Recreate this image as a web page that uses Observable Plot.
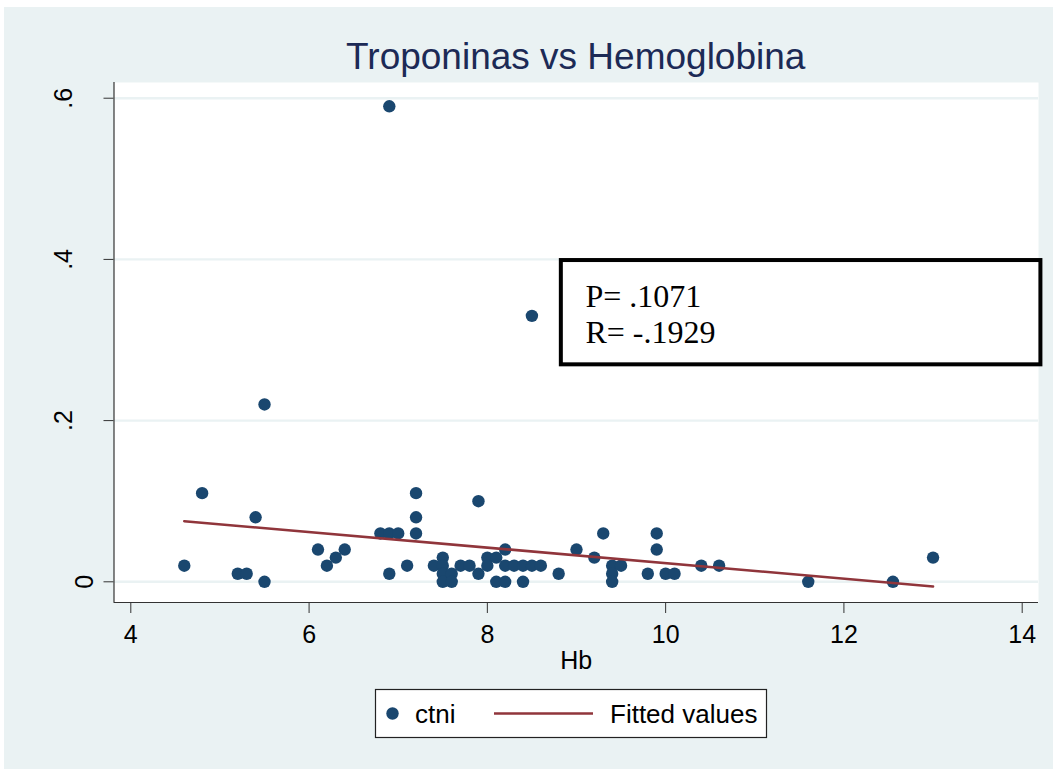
<!DOCTYPE html>
<html><head><meta charset="utf-8">
<script src="https://cdn.jsdelivr.net/npm/d3@7"></script>
<script src="https://cdn.jsdelivr.net/npm/@observablehq/plot@0.6"></script>
<style>
body{margin:0;background:#fff;}
#page{position:relative;width:1053px;height:769px;overflow:hidden;font-family:"Liberation Sans",Arial,sans-serif;}
#bg{position:absolute;left:4px;top:7px;right:0;bottom:0;background:#EAF2F3;}
#title{position:absolute;left:113.5px;width:924.5px;top:38px;text-align:center;font-size:37px;line-height:37px;color:#1c2a56;white-space:nowrap;}
#chart{position:absolute;left:0;top:0;}
#legend{position:absolute;left:0;top:0;}
</style></head><body>
<div id="page"><div id="bg"></div><div id="chart"></div><div id="title"></div><div id="legend"></div></div>
<script>
// ---- data ----
const titleText = "Troponinas vs Hemoglobina";
const xLabel = "Hb";
const seriesNames = ["ctni", "Fitted values"];
const hb   = [4.6,4.8,5.2,5.3,5.4,5.5,5.5,6.1,6.2,6.3,6.4,6.8,6.9,6.9,6.9,7.0,7.1,7.2,7.2,7.2,
              7.4,7.5,7.5,7.5,7.5,7.6,7.6,7.7,7.8,7.9,7.9,8.0,8.0,8.1,8.1,8.2,8.2,8.2,8.3,8.4,
              8.4,8.5,8.5,8.6,8.8,9.0,9.2,9.3,9.4,9.4,9.4,9.5,9.8,9.9,9.9,10.0,10.1,10.4,10.6,11.6,
              12.55,13.0];
const ctni = [0.02,0.11,0.01,0.01,0.08,0.22,0,0.04,0.02,0.03,0.04,0.06,0.06,0.59,0.01,0.06,0.02,0.11,0.08,0.06,
              0.02,0.03,0.02,0.01,0,0.01,0,0.02,0.02,0.10,0.01,0.03,0.02,0.03,0,0.04,0.02,0,0.02,0.02,
              0,0.02,0.33,0.02,0.01,0.04,0.03,0.06,0.02,0.01,0,0.02,0.01,0.06,0.04,0.01,0.01,0.02,0.02,0,
              0,0.03];
const fitHb  = [4.6, 13.0];
const fitVal = [0.0752, -0.0058];
const xTicks = [4, 6, 8, 10, 12, 14];
const yTicks = [0, 0.2, 0.4, 0.6];
const yTickLabels = ["0", ".2", ".4", ".6"];
const statLines = ["P= .1071", "R= -.1929"];
const statHb = [9.1, 9.1];
const statY = [0.3407, 0.2965];
const noteBox = [{x1: 8.83, x2: 14.21, y1: 0.2692, y2: 0.3986}];
const xDomain = [3.8115, 14.183];
const yDomain = [-0.02568, 0.6195];

// ---- build ----
const pts = hb.map((h, i) => ({hb: h, ctni: ctni[i]}));
const fitted = fitHb.map((h, i) => ({hb: h, fit: fitVal[i]}));
const stats = statLines.map((t, i) => ({t, hb: statHb[i], y: statY[i]}));
const fmtY = d => yTickLabels[yTicks.indexOf(d)];

const navy = "#1A476F", maroon = "#90353B", bg = "#EAF2F3";

const chart = Plot.plot({
  width: 1053, height: 680,
  marginLeft: 113.5, marginRight: 15, marginTop: 82, marginBottom: 78,
  style: {background: "transparent", fontFamily: "'Liberation Sans', Arial, sans-serif", color: "black"},
  x: {domain: xDomain, ticks: xTicks},
  y: {domain: yDomain, ticks: yTicks},
  marks: [
    Plot.frame({fill: "white", stroke: "none"}),
    Plot.ruleY(yTicks, {stroke: bg, strokeWidth: 2.4}),
    Plot.ruleX([xDomain[0]], {stroke: "#333", strokeWidth: 1.2}),
    Plot.ruleY([yDomain[0]], {stroke: "#333", strokeWidth: 1.2}),
    Plot.axisX(xTicks, {tickSize: 11, tickPadding: 12, fontSize: 25, stroke: "#333", label: null}),
    Plot.axisY([0], {tickSize: 10, tickPadding: 11, tickRotate: -90, fontSize: 25, stroke: "#333", tickFormat: fmtY, label: null}),
    Plot.axisY([0.2, 0.4, 0.6], {tickSize: 10, tickPadding: 32, tickRotate: -90, fontSize: 25, stroke: "#333", tickFormat: fmtY, label: null}),
    Plot.text([xLabel], {frameAnchor: "bottom", dy: 66, lineAnchor: "bottom", fontSize: 25, fill: "black"}),
    Plot.dot(pts, {x: "hb", y: "ctni", r: 6.2, fill: navy, stroke: "none"}),
    Plot.line(fitted, {x: "hb", y: "fit", stroke: maroon, strokeWidth: 2.6}),
    Plot.rect(noteBox, {x1: "x1", x2: "x2", y1: "y1", y2: "y2", fill: "white", stroke: "black", strokeWidth: 4}),
    Plot.text(stats, {x: "hb", y: "y", text: "t", textAnchor: "start", lineAnchor: "bottom", fontSize: 32, fontFamily: "'Liberation Serif', 'DejaVu Serif', serif", fill: "black"})
  ]
});
document.getElementById("chart").appendChild(chart);
document.getElementById("title").textContent = titleText;

// legend
const ns = "http://www.w3.org/2000/svg";
const lg = d3.select("#legend").append("svg").attr("width", 1053).attr("height", 769)
  .style("font-family", "'Liberation Sans', Arial, sans-serif");
lg.append("rect").attr("x", 375.5).attr("y", 689.5).attr("width", 391).attr("height", 48)
  .attr("fill", "white").attr("stroke", "#222").attr("stroke-width", 1.2);
lg.append("circle").attr("cx", 392.5).attr("cy", 713.5).attr("r", 6.2).attr("fill", navy);
lg.append("text").attr("x", 415).attr("y", 723).attr("font-size", 26).text(seriesNames[0]);
lg.append("line").attr("x1", 494).attr("x2", 593).attr("y1", 713.5).attr("y2", 713.5)
  .attr("stroke", maroon).attr("stroke-width", 2.6);
lg.append("text").attr("x", 610).attr("y", 723).attr("font-size", 26).text(seriesNames[1]);
</script>
</body></html>
